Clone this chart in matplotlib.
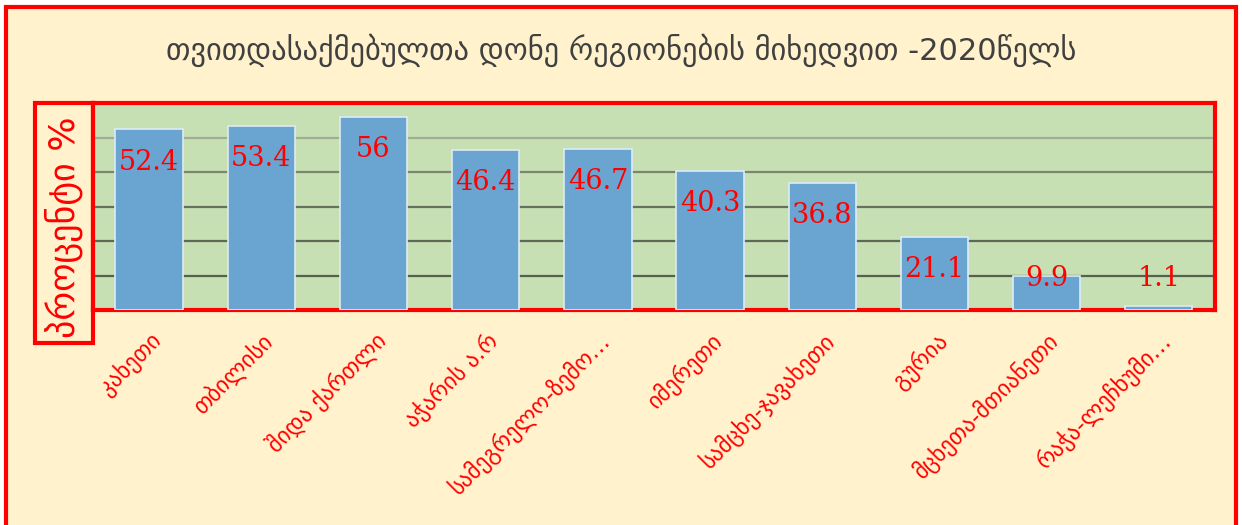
import matplotlib.pyplot as plt
from matplotlib.patches import Rectangle

regions = ['კახეთი', 'თბილისი', 'შიდა ქართლი', 'აჭარის ა.რ', 'სამეგრელო-ზემო…',
           'იმერეთი', 'სამცხე-ჯავახეთი', 'გურია', 'მცხეთა-მთიანეთი', 'რაჭა-ლეჩხუმი…']
values = [52.4, 53.4, 56, 46.4, 46.7, 40.3, 36.8, 21.1, 9.9, 1.1]

title = 'თვითდასაქმებულთა დონე რეგიონების მიხედვით -2020წელს'
ylabel = 'პროცენტი %'

cream = '#FFF2CC'
red = '#FF0000'

fig = plt.figure(figsize=(12.42, 5.25), dpi=100)
fig.patch.set_facecolor('white')

# outer chart frame
fig.patches.append(Rectangle((0.005, -0.05), 0.99, 1.036, transform=fig.transFigure,
                             facecolor=cream, edgecolor=red, linewidth=3, zorder=0))
# boxed vertical axis title
fig.patches.append(Rectangle((0.0282, 0.3467), 0.0467, 0.4571, transform=fig.transFigure,
                             facecolor=cream, edgecolor=red, linewidth=3, zorder=1))

ax = fig.add_axes([0.0749, 0.4095, 0.9033, 0.3943])
ax.set_zorder(2)
ax.set_facecolor('#C6E0B4')
x = range(len(values))
ax.bar(x, values, width=0.6, color='#6AA5D2', edgecolor='#DDEBF7', linewidth=1.2, zorder=3)
ax.set_ylim(0, 60)
ax.set_xlim(-0.5, len(values) - 0.5)
ax.set_yticks([10, 20, 30, 40, 50])
ax.yaxis.grid(True, linewidth=1.6, zorder=1)
# gridlines fade from dark at the bottom to light at the top
for line, c in zip(ax.get_ygridlines(), ['#56604C', '#5E6854', '#66705C', '#7C866F', '#A2AC94']):
    line.set_color(c)
ax.tick_params(axis='y', left=False, labelleft=False)
ax.tick_params(axis='x', length=0, pad=13)
ax.set_xticks(list(x))
ax.set_xticklabels(regions, rotation=45, ha='right', rotation_mode='anchor',
                   color=red, fontsize=16.5, family='DejaVu Sans')
for s in ax.spines.values():
    s.set_color(red)
    s.set_linewidth(3)

# value labels inside the top of each bar, lifted for short bars
for i, v in enumerate(values):
    ax.text(i, max(v - 9.5, 9.0), f'{v:g}', ha='center', va='center',
            color=red, fontsize=19.5, family='DejaVu Serif', zorder=4)

fig.text(0.5, 0.905, title, ha='center', va='center', fontsize=22,
         color='#404040', family='DejaVu Sans', zorder=3)
fig.text(0.0515, 0.567, ylabel, rotation=90, ha='center', va='center',
         fontsize=26, color=red, family='DejaVu Sans', zorder=3)

fig.savefig('out.png', dpi=100, facecolor=fig.get_facecolor())
